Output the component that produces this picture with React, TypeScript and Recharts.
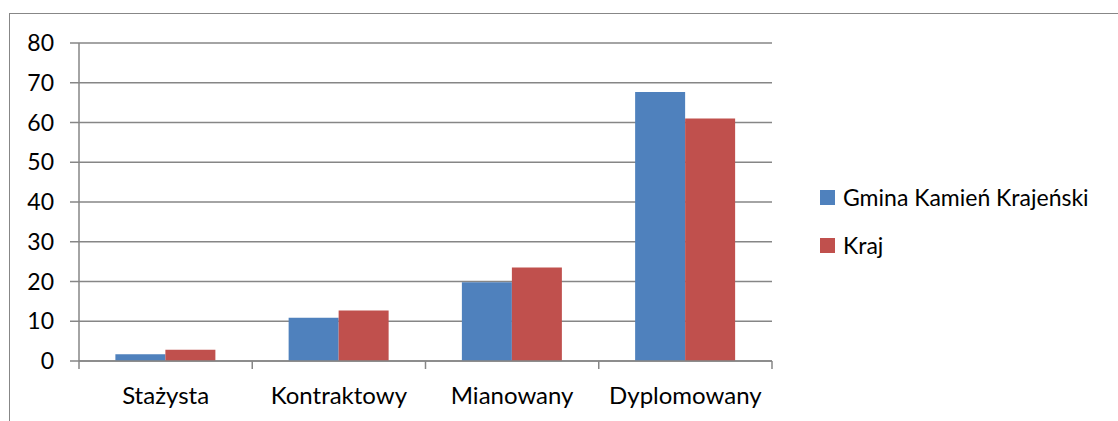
import React from "react";
import { BarChart, Bar, XAxis, YAxis, CartesianGrid, Legend } from "recharts";

const categories = ["Stażysta", "Kontraktowy", "Mianowany", "Dyplomowany"];
const gminaValues = [1.7, 10.9, 19.8, 67.7];
const krajValues = [2.8, 12.7, 23.5, 61.0];
const yTicks = [0, 10, 20, 30, 40, 50, 60, 70, 80];
const seriesNames = ["Gmina Kamień Krajeński", "Kraj"];
const seriesColors = ["#4F81BD", "#C0504D"];

const data = categories.map((c, i) => ({
  name: c,
  gmina: gminaValues[i],
  kraj: krajValues[i],
}));

const W = 1118;
const H = 421;
const LEGEND_W = 298;
const RIGHT_SPACE = 346;
const M = { top: 43, right: RIGHT_SPACE - LEGEND_W, bottom: 20, left: 0 };
const Y_W = 79;
const PLOT_W = W - M.left - Y_W - RIGHT_SPACE;
const BAND = PLOT_W / categories.length;
const FONT = "Lato, 'Open Sans', sans-serif";
const FS = 23;
const FS_X = 24;
const GRID = "#868686";
const TICK_SIZE = 8;
const TICK_MARGIN = 19;

const XTick = (props: any) => {
  const { x, y, payload, index } = props;
  const lineTop = y - TICK_SIZE - TICK_MARGIN;
  const lineBot = y - TICK_MARGIN;
  const left = x - BAND / 2;
  const right = x + BAND / 2;
  return (
    <g>
      <line x1={left} x2={left} y1={lineTop} y2={lineBot} stroke={GRID} strokeWidth={1.5} />
      {index === categories.length - 1 && (
        <line x1={right} x2={right} y1={lineTop} y2={lineBot} stroke={GRID} strokeWidth={1.5} />
      )}
      <text x={x} y={y} dy="0.68em" textAnchor="middle" fill="#000" fontSize={FS_X} fontFamily={FONT}>
        {payload.value}
      </text>
    </g>
  );
};

const LegendContent = () => (
  <div style={{ fontFamily: FONT, fontSize: FS, color: "#000" }}>
    {seriesNames.map((n, i) => (
      <div key={n} style={{ height: 48, display: "flex", alignItems: "center", whiteSpace: "nowrap" }}>
        <span
          style={{
            display: "inline-block",
            width: 15,
            height: 15,
            background: seriesColors[i],
            marginRight: 8,
          }}
        />
        <span>{n}</span>
      </div>
    ))}
  </div>
);

export default function App() {
  return (
    <div style={{ position: "absolute", left: 0, top: 0, width: W, height: H, overflow: "hidden", background: "#fff" }}>
      <div
        style={{
          position: "absolute",
          left: 9,
          top: 13,
          width: 1300,
          height: 600,
          border: "1.5px solid #878787",
        }}
      />
      <div style={{ position: "absolute", left: 0, top: 0 }}>
        <BarChart width={W} height={H} data={data} margin={M} barCategoryGap="21%" barGap={0}>
          <CartesianGrid horizontal vertical={false} stroke={GRID} strokeWidth={1.5} />
          <XAxis
            dataKey="name"
            axisLine={{ stroke: GRID, strokeWidth: 1.5 }}
            tickLine={false}
            tickSize={TICK_SIZE}
            tickMargin={TICK_MARGIN}
            tick={<XTick />}
            height={40}
            interval={0}
          />
          <YAxis
            width={Y_W}
            domain={[0, 80]}
            ticks={yTicks}
            interval={0}
            axisLine={{ stroke: GRID, strokeWidth: 1.5 }}
            tickLine={{ stroke: GRID, strokeWidth: 1.5 }}
            tickSize={9}
            tickMargin={16}
            tick={{ fill: "#000", fontSize: FS, fontFamily: FONT }}
          />
          <Legend
            layout="vertical"
            verticalAlign="middle"
            align="right"
            content={<LegendContent />}
            wrapperStyle={{ left: 820, top: 173, width: LEGEND_W, right: "auto", bottom: "auto" }}
          />
          <Bar dataKey="gmina" name={seriesNames[0]} fill={seriesColors[0]} isAnimationActive={false} />
          <Bar dataKey="kraj" name={seriesNames[1]} fill={seriesColors[1]} isAnimationActive={false} />
        </BarChart>
      </div>
    </div>
  );
}
